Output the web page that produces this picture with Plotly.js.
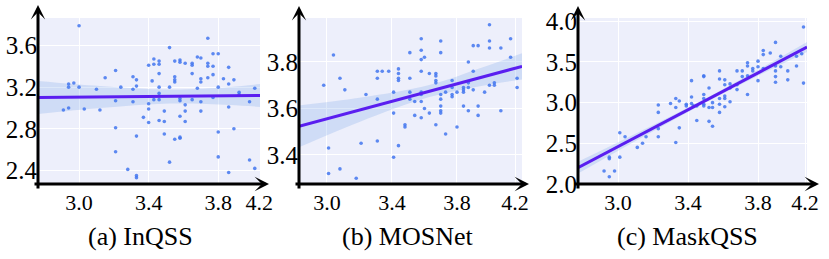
<!DOCTYPE html>
<html>
<head>
<meta charset="utf-8">
<script src="https://cdn.plot.ly/plotly-3.0.1.min.js"></script>
<style>html,body{margin:0;padding:0;background:#fff;font-family:'Liberation Serif';}#chart{width:829px;height:259px;}</style>
</head>
<body>
<div id="chart"></div>
<script>
// ---------- Data ----------
const panelTitles = ["(a) InQSS", "(b) MOSNet", "(c) MaskQSS"];
const xTickLabels = ["3.0", "3.4", "3.8", "4.2"];
const yTickLabelsA = ["2.4", "2.8", "3.2", "3.6"];
const yTickLabelsB = ["3.4", "3.6", "3.8"];
const yTickLabelsC = ["2.0", "2.5", "3.0", "3.5", "4.0"];

// (a) InQSS scatter
const inqssX = [3.00,3.40,3.21,3.31,3.33,3.15,2.97,2.94,2.94,3.00,3.10,3.24,3.31,3.33,3.21,3.31,3.40,3.40,2.91,2.94,3.03,3.12,3.37,3.40,3.21,3.33,3.21,3.28,3.33,3.33,
 3.74,3.52,3.77,3.80,3.68,3.70,3.43,3.46,3.55,3.58,3.58,3.61,3.65,3.65,3.74,3.74,3.77,3.43,3.46,3.86,3.46,3.65,3.77,3.55,3.74,3.70,3.70,3.83,3.89,3.42,3.55,3.55,3.86,3.80,3.46,3.52,3.68,4.01,3.92,3.92,3.46,3.43,3.46,3.58,3.58,3.65,3.77,3.70,3.98,3.61,3.86,3.61,3.49,3.70,3.58,3.46,3.49,3.61,3.89,3.80,3.49,3.58,3.58,3.55,3.80,3.98,3.52,3.86,4.01];
const inqssY = [3.79,3.41,3.36,3.30,3.27,3.29,3.24,3.23,3.20,3.20,3.18,3.20,3.18,3.21,3.07,3.06,3.04,2.99,2.98,3.00,2.99,2.98,2.91,2.86,2.81,2.73,2.58,2.41,2.35,2.33,
 3.67,3.58,3.52,3.52,3.49,3.48,3.47,3.45,3.45,3.46,3.44,3.43,3.43,3.41,3.43,3.40,3.40,3.42,3.42,3.39,3.33,3.33,3.32,3.30,3.29,3.28,3.25,3.28,3.27,3.26,3.27,3.25,3.23,3.20,3.20,3.20,3.19,3.19,3.15,3.13,3.14,3.08,3.08,3.09,3.07,3.08,3.10,3.06,3.06,3.03,3.01,2.97,2.97,2.97,2.92,2.88,2.87,2.87,2.80,2.77,2.75,2.72,2.71,2.70,2.53,2.50,2.48,2.38,2.42];
const inqssFitX = [2.764, 3.12, 3.52, 3.87, 4.04];
const inqssFitY = [3.100, 3.105, 3.110, 3.115, 3.120];
const inqssLo   = [2.942, 2.999, 3.043, 3.029, 3.010];
const inqssHi   = [3.259, 3.211, 3.177, 3.201, 3.230];

// (b) MOSNet scatter
const mosnetX = [3.04,3.51,3.31,3.34,3.38,3.44,3.44,3.44,3.44,3.08,3.31,3.51,2.98,3.11,3.24,3.41,3.51,3.31,3.51,3.41,3.48,3.48,3.31,3.21,3.44,3.01,3.41,3.08,3.01,3.18,
 4.00,3.58,4.00,4.13,3.70,3.90,3.93,4.00,4.07,3.58,3.70,3.58,3.60,4.13,3.87,3.58,3.90,3.63,3.67,3.67,3.67,3.67,3.77,3.87,4.00,4.03,4.03,4.17,4.17,3.77,3.84,3.84,3.84,3.87,3.90,3.97,3.58,3.58,3.73,3.80,3.77,3.77,3.70,3.54,3.58,3.70,3.70,3.70,3.70,3.60,3.84,3.93,3.87,4.07,3.63,3.54,3.58,3.93,3.67,3.80,3.73];
const mosnetY = [3.83,3.84,3.76,3.76,3.76,3.77,3.75,3.73,3.72,3.73,3.73,3.73,3.70,3.68,3.66,3.67,3.67,3.64,3.64,3.58,3.53,3.52,3.46,3.45,3.44,3.43,3.39,3.34,3.32,3.30,
 3.96,3.90,3.89,3.90,3.89,3.87,3.87,3.86,3.86,3.85,3.84,3.81,3.82,3.82,3.80,3.76,3.76,3.75,3.75,3.74,3.72,3.71,3.72,3.71,3.70,3.71,3.70,3.73,3.69,3.69,3.69,3.68,3.67,3.69,3.68,3.67,3.67,3.66,3.67,3.67,3.66,3.65,3.66,3.63,3.63,3.64,3.61,3.59,3.58,3.60,3.61,3.61,3.59,3.59,3.58,3.57,3.56,3.57,3.53,3.52,3.49];
const mosnetFitX = [2.828, 3.20, 3.63, 3.95, 4.20];
const mosnetFitY = [3.523, 3.594, 3.675, 3.736, 3.781];
const mosnetLo   = [3.433, 3.542, 3.649, 3.697, 3.725];
const mosnetHi   = [3.613, 3.646, 3.701, 3.775, 3.837];

// (c) MaskQSS scatter
const maskX = [3.42,3.42,3.42,3.33,3.35,3.30,3.33,3.39,3.39,3.23,3.23,3.35,3.23,3.01,3.04,3.16,3.23,3.14,3.33,3.11,2.95,2.95,3.01,2.92,2.98,2.95,
 4.06,3.90,3.83,3.83,3.87,3.80,3.93,4.02,4.05,3.74,3.74,3.77,3.77,3.80,3.83,3.90,3.93,4.02,3.71,3.68,3.58,3.49,3.49,3.74,3.71,3.90,3.90,3.97,3.97,3.90,4.06,3.80,3.58,3.61,3.61,3.64,3.68,3.68,3.64,3.52,3.74,3.61,3.61,3.58,3.49,3.49,3.64,3.54,3.49,3.49,3.58,3.61,3.52,3.54,3.43,3.45,3.58,3.45,3.52,3.54];
const maskY = [3.27,3.07,2.99,3.05,3.02,2.99,2.94,2.98,2.96,2.97,2.88,2.69,2.68,2.63,2.58,2.58,2.58,2.50,2.51,2.45,2.33,2.31,2.33,2.16,2.16,2.09,
 3.93,3.74,3.64,3.59,3.61,3.51,3.57,3.57,3.60,3.49,3.45,3.42,3.39,3.44,3.42,3.45,3.44,3.45,3.39,3.39,3.39,3.33,3.32,3.33,3.32,3.39,3.32,3.39,3.28,3.25,3.24,3.27,3.29,3.28,3.22,3.23,3.22,3.16,3.18,3.18,3.10,3.08,3.05,3.05,3.10,3.05,3.01,3.00,2.98,2.96,2.98,2.95,2.94,2.94,2.96,2.96,2.88,2.78,2.77,2.71];
const maskFitX = [2.771, 3.10, 3.50, 3.80, 4.080];
const maskFitY = [2.201, 2.573, 3.026, 3.366, 3.683];
const maskLo   = [2.128, 2.528, 3.001, 3.331, 3.622];
const maskHi   = [2.274, 2.618, 3.051, 3.401, 3.744];

// ---------- Styling ----------
const SERIF = "Liberation Serif";
const PTS = "rgba(66,118,238,0.85)";
const LINE = "#5a1ef0";
const BAND = "rgba(120,165,232,0.25)";
const BG = "#edeffb";

const W = 829, H = 259;
const panels = [
  {xs: inqssX, ys: inqssY, fx: inqssFitX, fy: inqssFitY, lo: inqssLo, hi: inqssHi,
   px: [38, 260], xr: [2.764, 4.04], xt: [3.0, 3.4, 3.8, 4.035], yr: [2.270, 3.864],
   yt: [2.4, 2.8, 3.2, 3.6], ytl: yTickLabelsA, yhead: 5, xhead: 269, xtail: 33, cap: 140},
  {xs: mosnetX, ys: mosnetY, fx: mosnetFitX, fy: mosnetFitY, lo: mosnetLo, hi: mosnetHi,
   px: [299, 522], xr: [2.828, 4.2], xt: [3.0, 3.4, 3.8, 4.157], yr: [3.275, 3.989],
   yt: [3.4, 3.6, 3.8], ytl: yTickLabelsB, yhead: 6, xhead: 529, xtail: 294, cap: 407},
  {xs: maskX, ys: maskY, fx: maskFitX, fy: maskFitY, lo: maskLo, hi: maskHi,
   px: [578, 807], xr: [2.771, 4.080], xt: [3.0, 3.4, 3.8, 4.069], yr: [2.0, 4.04],
   yt: [2.0, 2.5, 3.0, 3.5, 4.0], ytl: yTickLabelsC, yhead: 6, xhead: 819, xtail: 573, cap: 687}
];
const TOP = 18, BOT = 184;

const traces = [];
const layout = {
  width: W, height: H, autosize: false,
  margin: {l: 0, r: 0, t: 0, b: 0},
  paper_bgcolor: "#ffffff",
  plot_bgcolor: BG,
  showlegend: false,
  hovermode: false,
  font: {family: SERIF, size: 22, color: "#000"},
  annotations: []
};

panels.forEach((p, i) => {
  const n = i === 0 ? "" : String(i + 1);
  const xa = "x" + n, ya = "y" + n;
  traces.push({x: p.fx, y: p.lo, xaxis: xa, yaxis: ya, mode: "lines",
    line: {width: 0, shape: "spline", color: BAND}, hoverinfo: "skip"});
  traces.push({x: p.fx, y: p.hi, xaxis: xa, yaxis: ya, mode: "lines", fill: "tonexty",
    fillcolor: BAND, line: {width: 0, shape: "spline", color: BAND}, hoverinfo: "skip"});
  traces.push({x: p.xs, y: p.ys, xaxis: xa, yaxis: ya, mode: "markers",
    marker: {size: 3.6, color: PTS, line: {width: 0}}});
  traces.push({x: [p.fx[0], p.fx[p.fx.length - 1]], y: [p.fy[0], p.fy[p.fy.length - 1]],
    xaxis: xa, yaxis: ya, mode: "lines", line: {color: LINE, width: 3}});

  layout["xaxis" + n] = {
    domain: [p.px[0] / W, p.px[1] / W], range: p.xr, anchor: ya,
    tickvals: p.xt, ticktext: xTickLabels, ticks: "", showline: false, zeroline: false,
    showgrid: true, gridcolor: "#ffffff", gridwidth: 1,
    tickfont: {family: SERIF, size: 22, color: "#000"}, ticklabelstandoff: 3
  };
  layout["yaxis" + n] = {
    domain: [1 - BOT / H, 1 - TOP / H], range: p.yr, anchor: xa,
    tickvals: p.yt, ticktext: p.ytl, ticks: "", showline: false, zeroline: false,
    showgrid: true, gridcolor: "#ffffff", gridwidth: 1,
    tickfont: {family: SERIF, size: 25, color: "#000"}, ticklabelstandoff: 0
  };
  layout.annotations.push({xref: "paper", yref: "paper", x: p.px[0] / W, y: 1 - p.yhead / H,
    ax: 0, ay: 190 - p.yhead, text: "", showarrow: true, arrowhead: 3, arrowsize: 0.8,
    arrowwidth: 3, arrowcolor: "#000", standoff: 0});
  layout.annotations.push({xref: "paper", yref: "paper", x: p.xhead / W, y: 1 - BOT / H,
    ax: -(p.xhead - p.xtail), ay: 0, text: "", showarrow: true, arrowhead: 3, arrowsize: 0.8,
    arrowwidth: 3, arrowcolor: "#000", standoff: 0});
  layout.annotations.push({xref: "paper", yref: "paper", x: p.cap / W, y: 1 - 236 / H,
    xanchor: "center", yanchor: "middle", text: panelTitles[i], showarrow: false,
    font: {family: SERIF, size: 26, color: "#000"}});
});

Plotly.newPlot("chart", traces, layout, {displayModeBar: false});
</script>
</body>
</html>
